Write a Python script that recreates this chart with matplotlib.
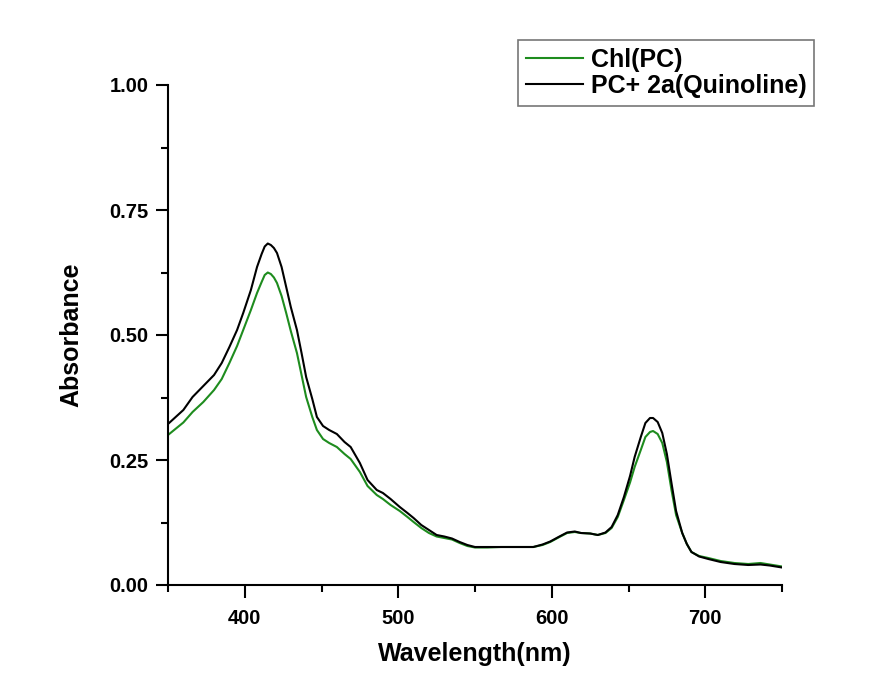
import matplotlib

matplotlib.use("Agg")
import matplotlib.pyplot as plt
from matplotlib.ticker import MultipleLocator

plt.rcParams["font.family"] = ["Liberation Sans", "DejaVu Sans"]
plt.rcParams["font.weight"] = "bold"

# Absorbance spectra (nm, A)
wavelength = [350, 360, 366, 373, 380, 385, 390, 395, 399, 404, 408, 411, 413, 415,
              417, 419, 421, 424, 427, 430, 434, 437, 440, 444, 447, 451, 455, 460,
              465, 469, 475, 480, 486, 490, 495, 501, 506, 510, 515, 520, 525, 530,
              535, 540, 545, 550, 558, 567, 575, 588, 594, 599, 605, 610, 615, 619,
              625, 630, 635, 639, 643, 647, 651, 654, 658, 661, 664, 666, 669, 672,
              675, 678, 681, 685, 688, 691, 696, 702, 710, 719, 728, 736, 742, 750]
chl_pc = [0.300, 0.325, 0.346, 0.366, 0.390, 0.412, 0.444, 0.478, 0.510, 0.550,
          0.584, 0.606, 0.620, 0.625, 0.622, 0.615, 0.604, 0.578, 0.544, 0.508,
          0.464, 0.420, 0.376, 0.336, 0.310, 0.292, 0.284, 0.276, 0.262, 0.252,
          0.226, 0.198, 0.180, 0.172, 0.160, 0.148, 0.136, 0.126, 0.114, 0.104,
          0.097, 0.094, 0.091, 0.084, 0.078, 0.075, 0.075, 0.076, 0.076, 0.076,
          0.080, 0.086, 0.096, 0.104, 0.106, 0.104, 0.103, 0.100, 0.104, 0.114,
          0.136, 0.170, 0.205, 0.236, 0.270, 0.296, 0.306, 0.308, 0.302, 0.284,
          0.246, 0.190, 0.140, 0.104, 0.082, 0.066, 0.058, 0.054, 0.048, 0.044,
          0.042, 0.044, 0.041, 0.037]
pc_quinoline = [0.322, 0.350, 0.376, 0.398, 0.420, 0.444, 0.476, 0.510, 0.544, 0.590,
                0.636, 0.662, 0.677, 0.683, 0.680, 0.674, 0.664, 0.636, 0.596, 0.556,
                0.510, 0.464, 0.416, 0.372, 0.336, 0.318, 0.310, 0.302, 0.286, 0.276,
                0.244, 0.210, 0.190, 0.184, 0.172, 0.156, 0.144, 0.134, 0.120, 0.110,
                0.100, 0.097, 0.093, 0.086, 0.080, 0.076, 0.076, 0.076, 0.076, 0.076,
                0.081, 0.087, 0.097, 0.105, 0.107, 0.104, 0.103, 0.100, 0.105, 0.116,
                0.140, 0.176, 0.218, 0.256, 0.296, 0.324, 0.334, 0.334, 0.326, 0.304,
                0.262, 0.204, 0.148, 0.104, 0.082, 0.066, 0.057, 0.052, 0.046, 0.042,
                0.040, 0.041, 0.039, 0.035]

fig = plt.figure(figsize=(8.9, 6.95), dpi=100)
ax = fig.add_axes([168 / 890, 1 - 585 / 695, 614 / 890, 500 / 695])

ax.plot(wavelength, chl_pc, color="#1e8c1e", lw=1.5, label="Chl(PC)")
ax.plot(wavelength, pc_quinoline, color="black", lw=1.5, label="PC+ 2a(Quinoline)")

ax.set_xlim(350, 750)
ax.set_ylim(0, 1.0)
ax.xaxis.set_major_locator(MultipleLocator(100))
ax.xaxis.set_minor_locator(MultipleLocator(50))
ax.yaxis.set_major_locator(MultipleLocator(0.25))
ax.yaxis.set_minor_locator(MultipleLocator(0.125))
ax.yaxis.set_major_formatter(lambda v, p: f"{v:.2f}")

for side in ("top", "right"):
    ax.spines[side].set_visible(False)
for side in ("left", "bottom"):
    ax.spines[side].set_linewidth(1.5)

ax.tick_params(which="major", direction="out", length=9, width=1.5, labelsize=14.5)
ax.tick_params(which="minor", direction="out", length=5, width=1.5)
ax.tick_params(axis="y", pad=5)
ax.tick_params(axis="x", pad=8)

ax.set_xlabel("Wavelength(nm)", fontsize=18, fontweight="bold", labelpad=10)
ax.set_ylabel("Absorbance", fontsize=18, fontweight="bold", labelpad=19)

leg = fig.legend(loc="upper left", bbox_to_anchor=(518 / 890, 1 - 40 / 695),
                 fontsize=18, frameon=True, fancybox=False, borderaxespad=0,
                 handlelength=2.3, handletextpad=0.32, labelspacing=0.1,
                 borderpad=0.3)
leg.get_frame().set_edgecolor("#555555")
leg.get_frame().set_linewidth(1.2)
for t in leg.get_texts():
    t.set_fontweight("bold")

fig.savefig("out.png", dpi=100)
